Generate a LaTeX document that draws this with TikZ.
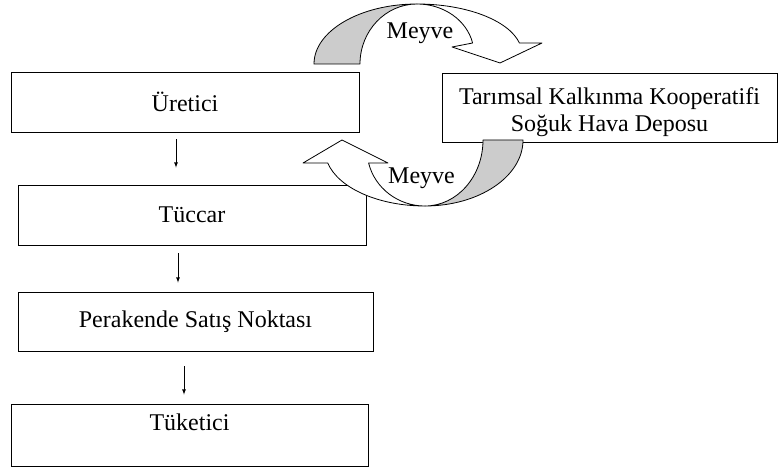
\documentclass[tikz,border=0pt]{standalone}
\usepackage{fontspec}
\setmainfont{Liberation Serif}
\usetikzlibrary{arrows}

\begin{document}
\begin{tikzpicture}[x=1pt, y=1pt, font=\fontsize{24}{27}\selectfont,
        box/.style={draw, line width=0.8pt, fill=white, inner sep=0pt},
        band/.style={draw, line width=0.8pt, line join=round}]
        \useasboundingbox (0,0) rectangle (781,469);
        % chain of trade
        \node[box, minimum width=348pt, minimum height=60pt] (uretici) at (185,367) {Üretici};
        \node[box, minimum width=348pt, minimum height=60pt] (tuccar) at (192,254) {Tüccar};
        \node[box, minimum width=355pt, minimum height=59pt] (perakende) at (195.5,147.5) {Perakende Satış Noktası};
        \node[box, minimum width=357pt, minimum height=62pt, text height=18pt, text depth=28pt] (tuketici) at (189.5,34) {Tüketici};
        \node[box, minimum width=335pt, minimum height=69pt, align=center] (depo) at (609.5,361.5)
            {\rule{0pt}{27pt}Tarımsal Kalkınma Kooperatifi\\Soğuk Hava Deposu};
        \draw[line width=0.8pt, -latex] ([xshift=-9pt, yshift=-7pt]uretici.south) -- ([xshift=-16pt, yshift=17pt]tuccar.north);
        \draw[line width=0.8pt, -latex] ([xshift=-14pt, yshift=-8pt]tuccar.south) -- ([xshift=-17.5pt, yshift=9pt]perakende.north);
        \draw[line width=0.8pt, -latex] ([xshift=-11.5pt, yshift=-15pt]perakende.south) -- ([xshift=-5.5pt, yshift=9pt]tuketici.north);
        % curved arrow to the store
        \draw[band, fill=white] (417,465) arc[start angle=90, end angle=12.7, x radius=105pt, y radius=50pt]
            -- (542,426) -- (500,406) -- (452,422) -- (472.6,426)
            arc[start angle=12.7, end angle=90, x radius=57pt, y radius=50pt] -- cycle;
        \draw[band, fill=gray!40] (314,405) arc[start angle=180, end angle=90, x radius=103pt, y radius=60pt]
            arc[start angle=90, end angle=180, x radius=57pt, y radius=60pt] -- cycle;
        % curved arrow back
        \draw[band, fill=white] (425,263) arc[start angle=-90, end angle=-166.6, x radius=100pt, y radius=56pt]
            -- (303,306) -- (342,329) -- (388,306) -- (368.6,306)
            arc[start angle=-166.6, end angle=-90, x radius=58pt, y radius=56pt] -- cycle;
        \draw[band, fill=gray!40] (523,329) arc[start angle=0, end angle=-90, x radius=98pt, y radius=66pt]
            arc[start angle=-90, end angle=0, x radius=58pt, y radius=66pt] -- cycle;
        \node (meyveA) at (420,436) {Meyve};
        \node (meyveB) at (421.5,291) {Meyve};
\end{tikzpicture}
\end{document}
